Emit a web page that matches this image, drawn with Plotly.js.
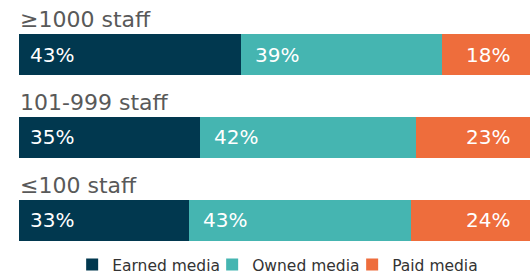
<!DOCTYPE html>
<html><head><meta charset="utf-8">
<script src="https://cdn.plot.ly/plotly-3.0.1.min.js"></script>
<style>html,body{margin:0;padding:0;overflow:hidden;background:#fff;width:530px;height:275px}#chart{width:536px;height:275px}</style>
</head><body><div id="chart"></div>
<script>
const categories = ['≥1000 staff', '101-999 staff', '≤100 staff'];
const seriesNames = ['Earned media', 'Owned media', 'Paid media'];
const earned = [43, 35, 33];
const owned = [39, 42, 43];
const paid = [18, 23, 24];

const colors = ['#01384f', '#45b5b1', '#ee6d3c'];
const FONT = '"DejaVu Sans", sans-serif';
const series = [earned, owned, paid];

const traces = series.map((vals, i) => ({
  type: 'bar', orientation: 'h', name: seriesNames[i],
  x: vals, y: categories, marker: {color: colors[i], line: {width: 0}},
  width: 0.5, hoverinfo: 'none'
}));

const annotations = [];
categories.forEach((c, r) => {
  let start = 0;
  series.forEach((vals, i) => {
    const v = vals[r];
    const isLast = i === series.length - 1;
    annotations.push({
      xref: 'x', yref: 'y', x: isLast ? start + v : start, y: c,
      xanchor: isLast ? 'right' : 'left', yanchor: 'middle',
      xshift: isLast ? -23 : (i === 0 ? 9 : 12),
      text: v + '%', showarrow: false,
      font: {family: FONT, size: 20, color: '#ffffff'}
    });
    start += v;
  });
  annotations.push({
    xref: 'x', yref: 'y', x: 0, y: c, xanchor: 'left', yanchor: 'bottom',
    yshift: 20.75, xshift: -1, text: c, showarrow: false,
    font: {family: FONT, size: 22, color: '#595959'}
  });
});

const layout = {
  width: 536, height: 275,
  margin: {l: 19, r: 1, t: 13, b: 0, autoexpand: false},
  barmode: 'stack',
  paper_bgcolor: '#fff', plot_bgcolor: '#fff',
  xaxis: {range: [0, 100], visible: false, fixedrange: true},
  yaxis: {range: [2.657, -0.5], visible: false, fixedrange: true, type: 'category'},
  showlegend: true,
  legend: {orientation: 'h', traceorder: 'normal', x: 0.51, xanchor: 'center', y: 0.038, yanchor: 'middle',
    font: {family: FONT, size: 15.5, color: '#333'}, bgcolor: 'rgba(0,0,0,0)', itemwidth: 30,
    entrywidth: 95, entrywidthmode: 'pixels'},
  annotations: annotations,
  font: {family: FONT}
};
Plotly.newPlot('chart', traces, layout, {staticPlot: true, displayModeBar: false});
</script></body></html>
